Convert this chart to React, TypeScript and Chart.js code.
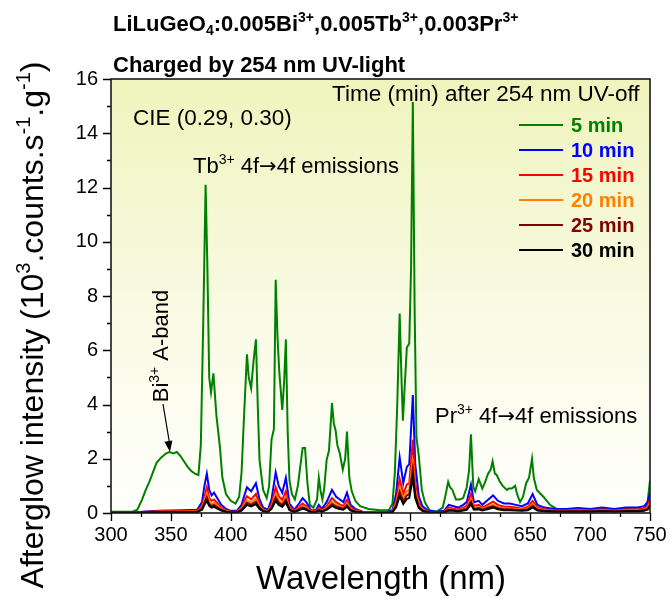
import React, { useEffect, useRef } from 'react';
import { Chart, registerables } from 'chart.js';

Chart.register(...registerables);

// ---------- data ----------
const waveGreen = [
  300, 310, 318, 322, 326, 329, 332, 335, 338, 342,
  346, 349, 352, 355, 358, 361, 364, 367, 370, 373,
  375, 377, 379, 380.5, 382, 383.5, 385.5, 388, 391, 393,
  396, 400, 404, 407, 409, 411, 413.5, 415, 417, 419,
  421, 422.5, 424, 427, 430, 432, 434, 436, 437.5, 439,
  440.5, 443, 444.5, 446, 447.5, 449, 451, 453.5, 456, 458,
  460, 462, 464, 466, 469, 472, 473.5, 475, 476.5, 478,
  480, 482, 484.5, 486, 487.5, 489, 491, 493.5, 495.5, 497,
  499, 501, 504, 508, 515, 525, 532, 535, 537, 539,
  541, 542.5, 543.7, 545, 547, 549, 550.5, 552, 553.5, 555,
  557, 559.5, 562, 566, 572, 577, 579, 581.5, 583, 585,
  588, 591, 594, 597, 599, 600.5, 602.5, 604, 607, 610,
  612, 614.8, 617, 618.6, 620.5, 622, 624.7, 627, 630.5, 632,
  634.6, 637.4, 639, 641.5, 644, 646.6, 649, 651.5, 653, 655.5,
  661, 666.5, 672, 680, 690, 700, 710, 720, 730, 740,
  746, 748, 750,
];
const int5min = [
  0.05, 0.05, 0.05, 0.12, 0.5, 0.85, 1.15, 1.5, 1.85, 2.05,
  2.2, 2.25, 2.2, 2.25, 2.1, 1.9, 1.7, 1.55, 1.45, 1.4,
  2.5, 7.0, 12.1, 9.0, 5.0, 4.45, 5.15, 3.6, 2.4, 1.3,
  0.7, 0.45, 0.35, 0.6, 1.5, 3.5, 5.85, 5.0, 4.6, 5.6,
  6.4, 4.0, 1.95, 0.85, 0.55, 1.0, 2.7, 3.1, 8.6, 6.5,
  5.2, 3.8, 4.8, 6.4, 3.0, 1.2, 0.7, 0.5, 1.0, 1.7,
  2.4, 2.4, 1.1, 0.3, 0.2, 0.5, 1.3, 0.8, 0.5, 0.9,
  1.95, 2.3, 4.05, 3.3, 3.05, 2.5, 2.2, 1.6, 2.0, 3.0,
  1.3, 0.8, 0.45, 0.25, 0.15, 0.1, 0.1, 0.35, 1.5, 4.0,
  7.35, 5.0, 3.4, 4.5, 6.1, 6.25, 9.0, 15.15, 7.5, 2.8,
  2.1, 0.85, 0.4, 0.1, 0.05, 0.2, 0.6, 1.15, 0.95, 0.85,
  0.5, 0.5, 0.55, 0.95, 1.6, 2.9, 0.95, 0.8, 1.25, 0.9,
  1.1, 1.45, 1.6, 1.9, 1.45, 1.4, 1.15, 1.0, 0.85, 0.9,
  0.9, 1.0, 0.7, 0.4, 0.6, 1.1, 1.3, 2.0, 1.3, 0.85,
  0.6, 0.3, 0.15, 0.12, 0.15, 0.12, 0.15, 0.12, 0.15, 0.12,
  0.18, 0.4, 1.2,
];

const waveLow = [
  300, 320, 340, 360, 372, 376, 378, 380, 382, 384,
  386, 388, 392, 396, 400, 405, 409, 411, 413.5, 417,
  421, 424, 427, 431, 434, 437.5, 440, 443, 446, 449,
  453, 457, 460, 463, 467, 471, 473.5, 476, 480, 484.5,
  488, 491, 494, 497, 500, 504, 510, 520, 530, 535,
  538, 541, 544, 547, 549, 552, 554, 557, 560, 565,
  572, 578, 582, 586, 590, 594, 597, 600.5, 603, 607,
  610, 615, 619, 623, 628, 633, 638, 643, 648, 652,
  656, 662, 670, 680, 690, 700, 710, 720, 730, 740,
  745, 748, 750,
];
const int10min = [
  0.02, 0.03, 0.08, 0.1, 0.12, 0.4, 1.0, 1.45, 0.85, 0.65,
  0.75, 0.6, 0.3, 0.15, 0.08, 0.08, 0.3, 0.6, 0.95, 0.8,
  1.1, 0.5, 0.2, 0.12, 0.5, 1.5, 1.0, 0.75, 1.3, 0.35,
  0.12, 0.35, 0.55, 0.4, 0.1, 0.1, 0.3, 0.15, 0.4, 0.85,
  0.6, 0.5, 0.4, 0.75, 0.3, 0.15, 0.05, 0.03, 0.03, 0.1,
  0.7, 2.05, 1.1, 1.7, 1.8, 4.35, 1.8, 0.6, 0.25, 0.08,
  0.05, 0.08, 0.3, 0.25, 0.2, 0.3, 0.4, 1.05, 0.4, 0.45,
  0.3, 0.5, 0.65, 0.45, 0.35, 0.35, 0.3, 0.25, 0.35, 0.7,
  0.3, 0.2, 0.15, 0.15, 0.18, 0.15, 0.2, 0.15, 0.2, 0.2,
  0.25, 0.4, 0.75,
];
const int15min = [
  0.02, 0.03, 0.06, 0.07, 0.08, 0.25, 0.6, 0.95, 0.55, 0.45,
  0.5, 0.4, 0.2, 0.1, 0.05, 0.05, 0.2, 0.4, 0.62, 0.5,
  0.7, 0.32, 0.12, 0.08, 0.32, 0.95, 0.62, 0.48, 0.8, 0.22,
  0.08, 0.22, 0.35, 0.25, 0.07, 0.07, 0.2, 0.1, 0.25, 0.55,
  0.4, 0.32, 0.25, 0.48, 0.2, 0.1, 0.04, 0.02, 0.02, 0.06,
  0.45, 1.25, 0.7, 1.05, 1.1, 2.7, 1.1, 0.38, 0.15, 0.05,
  0.04, 0.05, 0.2, 0.16, 0.13, 0.2, 0.26, 0.7, 0.26, 0.3,
  0.2, 0.32, 0.42, 0.3, 0.23, 0.23, 0.2, 0.16, 0.23, 0.45,
  0.2, 0.13, 0.1, 0.1, 0.12, 0.1, 0.13, 0.1, 0.13, 0.13,
  0.16, 0.26, 0.5,
];
const int20min = [
  0.01, 0.02, 0.05, 0.05, 0.06, 0.19, 0.47, 0.72, 0.42, 0.33,
  0.38, 0.3, 0.15, 0.07, 0.04, 0.04, 0.15, 0.3, 0.47, 0.38,
  0.52, 0.24, 0.1, 0.06, 0.24, 0.72, 0.47, 0.36, 0.6, 0.17,
  0.06, 0.17, 0.26, 0.19, 0.05, 0.05, 0.15, 0.07, 0.19, 0.41,
  0.3, 0.24, 0.19, 0.36, 0.15, 0.07, 0.03, 0.02, 0.02, 0.05,
  0.33, 0.95, 0.52, 0.8, 0.85, 2.0, 0.85, 0.28, 0.12, 0.04,
  0.03, 0.04, 0.15, 0.12, 0.1, 0.15, 0.19, 0.52, 0.19, 0.22,
  0.15, 0.24, 0.31, 0.22, 0.17, 0.17, 0.15, 0.12, 0.17, 0.34,
  0.15, 0.1, 0.07, 0.07, 0.09, 0.07, 0.1, 0.07, 0.1, 0.1,
  0.12, 0.2, 0.38,
];
const int25min = [
  0.01, 0.02, 0.04, 0.04, 0.05, 0.15, 0.38, 0.58, 0.33, 0.26,
  0.3, 0.24, 0.12, 0.06, 0.03, 0.03, 0.12, 0.24, 0.38, 0.3,
  0.42, 0.2, 0.08, 0.05, 0.2, 0.58, 0.38, 0.29, 0.5, 0.14,
  0.05, 0.14, 0.21, 0.15, 0.04, 0.04, 0.12, 0.06, 0.15, 0.33,
  0.24, 0.2, 0.15, 0.29, 0.12, 0.06, 0.02, 0.01, 0.01, 0.04,
  0.27, 0.78, 0.42, 0.65, 0.7, 1.65, 0.7, 0.23, 0.1, 0.03,
  0.02, 0.03, 0.12, 0.1, 0.08, 0.12, 0.15, 0.42, 0.15, 0.18,
  0.12, 0.2, 0.25, 0.18, 0.14, 0.14, 0.12, 0.1, 0.14, 0.27,
  0.12, 0.08, 0.06, 0.06, 0.07, 0.06, 0.08, 0.06, 0.08, 0.08,
  0.1, 0.16, 0.3,
];
const int30min = [
  0.01, 0.01, 0.03, 0.03, 0.04, 0.12, 0.3, 0.45, 0.26, 0.2,
  0.23, 0.18, 0.09, 0.05, 0.02, 0.02, 0.09, 0.18, 0.3, 0.24,
  0.33, 0.15, 0.06, 0.04, 0.15, 0.45, 0.3, 0.23, 0.39, 0.1,
  0.04, 0.1, 0.16, 0.12, 0.03, 0.03, 0.09, 0.05, 0.12, 0.26,
  0.18, 0.15, 0.12, 0.23, 0.09, 0.05, 0.02, 0.01, 0.01, 0.03,
  0.21, 0.62, 0.33, 0.52, 0.55, 1.3, 0.55, 0.18, 0.08, 0.02,
  0.02, 0.02, 0.09, 0.08, 0.06, 0.09, 0.12, 0.32, 0.12, 0.14,
  0.09, 0.15, 0.2, 0.14, 0.1, 0.1, 0.09, 0.08, 0.1, 0.21,
  0.09, 0.06, 0.05, 0.05, 0.05, 0.05, 0.06, 0.05, 0.06, 0.06,
  0.08, 0.12, 0.23,
];

const seriesLabels = ['5 min', '10 min', '15 min', '20 min', '25 min', '30 min'];
const seriesColors = ['#008000', '#0000ff', '#ff0000', '#ff8000', '#800000', '#000000'];

const xTickValues = [300, 325, 350, 375, 400, 425, 450, 475, 500, 525, 550, 575, 600, 625, 650, 675, 700, 725, 750];
const xMajor = [300, 350, 400, 450, 500, 550, 600, 650, 700, 750];
const yTickValues = [0, 1, 2, 3, 4, 5, 6, 7, 8, 9, 10, 11, 12, 13, 14, 15, 16];
const yMajor = [0, 2, 4, 6, 8, 10, 12, 14, 16];

// ---------- helpers ----------
const FF = '"Liberation Sans", Arial, Helvetica, sans-serif';
const FSYM = '"DejaVu Sans", sans-serif';
type Seg = { t: string; s?: 'sup' | 'sub' | 'sym' };

function segFont(seg: Seg, size: number, weight: string) {
  if (seg.s === 'sym') return `${weight} ${Math.round(size * 0.95)}px ${FSYM}`;
  const sz = seg.s ? Math.round(size * 0.62) : size;
  return `${weight} ${sz}px ${FF}`;
}
function richWidth(ctx: CanvasRenderingContext2D, segs: Seg[], size: number, weight: string) {
  let w = 0;
  for (const s of segs) {
    ctx.font = segFont(s, size, weight);
    w += ctx.measureText(s.t).width;
  }
  return w;
}
function drawRich(
  ctx: CanvasRenderingContext2D,
  segs: Seg[],
  x: number,
  y: number,
  size: number,
  weight: string,
  color: string,
  align: 'left' | 'center' = 'left'
) {
  const w = richWidth(ctx, segs, size, weight);
  let cx = align === 'center' ? x - w / 2 : x;
  ctx.fillStyle = color;
  ctx.textAlign = 'left';
  ctx.textBaseline = 'alphabetic';
  for (const s of segs) {
    ctx.font = segFont(s, size, weight);
    const dy = s.s === 'sup' ? -size * 0.4 : s.s === 'sub' ? size * 0.2 : 0;
    ctx.fillText(s.t, cx, y + dy);
    cx += ctx.measureText(s.t).width;
  }
}

const decorPlugin = {
  id: 'decor',
  beforeDraw(chart: any) {
    const ctx: CanvasRenderingContext2D = chart.ctx;
    const a = chart.chartArea;
    ctx.save();
    ctx.fillStyle = '#ffffff';
    ctx.fillRect(0, 0, chart.width, chart.height);
    const g = ctx.createLinearGradient(0, a.top, 0, a.bottom);
    g.addColorStop(0, 'rgb(239,244,188)');
    g.addColorStop(0.5, 'rgb(248,250,225)');
    g.addColorStop(1, 'rgb(255,255,252)');
    ctx.fillStyle = g;
    ctx.fillRect(a.left, a.top, a.right - a.left, a.bottom - a.top);
    ctx.restore();
  },
  afterDraw(chart: any) {
    const ctx: CanvasRenderingContext2D = chart.ctx;
    const a = chart.chartArea;
    const xs = chart.scales.x;
    const ys = chart.scales.y;
    ctx.save();
    // ticks
    ctx.strokeStyle = '#000';
    ctx.lineWidth = 1.3;
    ctx.beginPath();
    for (const v of xTickValues) {
      const px = Math.round(xs.getPixelForValue(v)) + 0.5;
      const len = xMajor.includes(v) ? 8 : 4;
      ctx.moveTo(px, a.bottom);
      ctx.lineTo(px, a.bottom + len);
    }
    for (const v of yTickValues) {
      const py = Math.round(ys.getPixelForValue(v)) + 0.5;
      const len = yMajor.includes(v) ? 8 : 4;
      ctx.moveTo(a.left, py);
      ctx.lineTo(a.left - len, py);
    }
    ctx.stroke();
    // frame
    ctx.lineWidth = 1.6;
    ctx.strokeStyle = '#1a1a1a';
    ctx.strokeRect(a.left, a.top, a.right - a.left, a.bottom - a.top);

    // titles
    drawRich(
      ctx,
      [
        { t: 'LiLuGeO' }, { t: '4', s: 'sub' }, { t: ':0.005Bi' }, { t: '3+', s: 'sup' },
        { t: ',0.005Tb' }, { t: '3+', s: 'sup' }, { t: ',0.003Pr' }, { t: '3+', s: 'sup' },
      ],
      113, 31, 22, 'bold', '#000'
    );
    drawRich(ctx, [{ t: 'Charged by 254 nm UV-light' }], 113, 72, 22, 'bold', '#000');

    // axis titles
    drawRich(ctx, [{ t: 'Wavelength (nm)' }], 381, 589, 33, 'normal', '#000', 'center');
    ctx.save();
    ctx.translate(43, 325);
    ctx.rotate(-Math.PI / 2);
    drawRich(
      ctx,
      [
        { t: 'Afterglow intensity (10' }, { t: '3', s: 'sup' }, { t: '.counts.s' }, { t: '-1', s: 'sup' },
        { t: '.g' }, { t: '-1', s: 'sup' }, { t: ')' },
      ],
      0, 0, 32, 'normal', '#000', 'center'
    );
    ctx.restore();

    // annotations
    drawRich(ctx, [{ t: 'CIE (0.29, 0.30)' }], 133, 125, 22.5, 'normal', '#000');
    drawRich(ctx, [{ t: 'Tb' }, { t: '3+', s: 'sup' }, { t: ' 4f' }, { t: '\u2192', s: 'sym' }, { t: '4f emissions' }], 193, 173, 22, 'normal', '#000');
    drawRich(ctx, [{ t: 'Pr' }, { t: '3+', s: 'sup' }, { t: ' 4f' }, { t: '\u2192', s: 'sym' }, { t: '4f emissions' }], 435, 423, 22, 'normal', '#000');
    ctx.save();
    ctx.translate(168, 346);
    ctx.rotate(-Math.PI / 2);
    drawRich(ctx, [{ t: 'Bi' }, { t: '3+', s: 'sup' }, { t: ' A-band' }], 0, 0, 22, 'normal', '#000', 'center');
    ctx.restore();
    // arrow
    const x0 = 163, y0 = 404, x1 = 170, y1 = 452;
    ctx.strokeStyle = '#000';
    ctx.lineWidth = 1.2;
    ctx.beginPath();
    ctx.moveTo(x0, y0);
    ctx.lineTo(x1, y1 - 6);
    ctx.stroke();
    const ang = Math.atan2(y1 - y0, x1 - x0);
    ctx.fillStyle = '#000';
    ctx.beginPath();
    ctx.moveTo(x1, y1);
    ctx.lineTo(x1 - 11 * Math.cos(ang) + 4 * Math.sin(ang), y1 - 11 * Math.sin(ang) - 4 * Math.cos(ang));
    ctx.lineTo(x1 - 11 * Math.cos(ang) - 4 * Math.sin(ang), y1 - 11 * Math.sin(ang) + 4 * Math.cos(ang));
    ctx.closePath();
    ctx.fill();

    // legend
    drawRich(ctx, [{ t: 'Time (min) after 254 nm UV-off' }], 332, 101, 22.5, 'normal', '#000');
    seriesLabels.forEach((lab, i) => {
      const yc = 125 + i * 25;
      ctx.strokeStyle = seriesColors[i];
      ctx.lineWidth = 2;
      ctx.beginPath();
      ctx.moveTo(519, yc);
      ctx.lineTo(563, yc);
      ctx.stroke();
      drawRich(ctx, [{ t: lab }], 571, yc + 7, 20, 'bold', seriesColors[i]);
    });
    ctx.restore();
  },
};

function toPoints(xs: number[], ys: number[]) {
  return xs.map((x, i) => ({ x, y: ys[i] }));
}

export default function App() {
  const ref = useRef<HTMLCanvasElement | null>(null);
  useEffect(() => {
    document.body.style.margin = '0';
    const canvas = ref.current;
    if (!canvas) return;
    const lows = [int10min, int15min, int20min, int25min, int30min];
    const datasets: any[] = [
      {
        label: seriesLabels[0],
        data: toPoints(waveGreen, int5min),
        borderColor: seriesColors[0],
        borderWidth: 2,
        pointRadius: 0,
        tension: 0,
        order: 6,
      },
      ...lows.map((arr, i) => ({
        label: seriesLabels[i + 1],
        data: toPoints(waveLow, arr),
        borderColor: seriesColors[i + 1],
        borderWidth: 2,
        pointRadius: 0,
        tension: 0,
        order: 5 - i,
      })),
    ];
    const chart = new Chart(canvas, {
      type: 'line',
      data: { datasets },
      options: {
        animation: false,
        responsive: false,
        maintainAspectRatio: false,
        layout: { padding: { left: 0, top: 79, right: 20, bottom: 0 } },
        plugins: { legend: { display: false }, tooltip: { enabled: false } },
        scales: {
          x: {
            type: 'linear',
            min: 300,
            max: 750,
            afterFit: (s: any) => { s.height = 86; },
            afterBuildTicks: (s: any) => { s.ticks = xTickValues.map((v) => ({ value: v })); },
            ticks: {
              autoSkip: false,
              maxRotation: 0,
              minRotation: 0,
              padding: 2,
              color: '#000',
              font: { family: FF, size: 20 },
              callback: (v: any) => (xMajor.includes(Number(v)) ? String(v) : ''),
            },
            grid: { display: true, drawOnChartArea: false, drawTicks: true, tickLength: 8, color: 'transparent', tickColor: 'transparent' },
            border: { display: false },
          },
          y: {
            type: 'linear',
            min: 0,
            max: 16,
            afterFit: (s: any) => { s.width = 111; },
            afterBuildTicks: (s: any) => { s.ticks = yTickValues.map((v) => ({ value: v })); },
            ticks: {
              autoSkip: false,
              padding: 5,
              color: '#000',
              font: { family: FF, size: 20 },
              callback: (v: any) => (yMajor.includes(Number(v)) ? String(v) : ''),
            },
            grid: { display: true, drawOnChartArea: false, drawTicks: true, tickLength: 8, color: 'transparent', tickColor: 'transparent' },
            border: { display: false },
          },
        },
      },
      plugins: [decorPlugin],
    });
    return () => chart.destroy();
  }, []);
  return (
    <div style={{ width: 670, height: 599, overflow: 'hidden', position: 'relative' }}>
      <canvas ref={ref} width={670} height={599} style={{ display: 'block' }} />
    </div>
  );
}
